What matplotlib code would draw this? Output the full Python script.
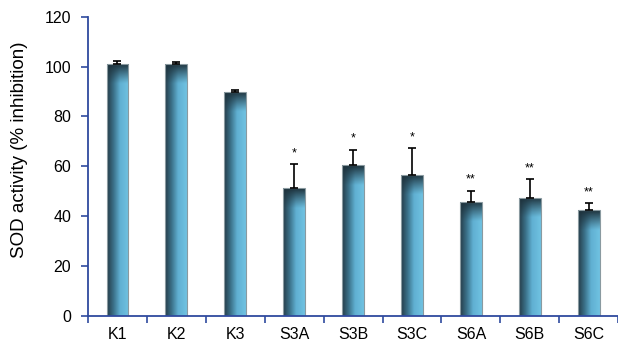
import numpy as np
import matplotlib
matplotlib.use("Agg")
import matplotlib.pyplot as plt
from matplotlib.colors import to_rgb

categories = ["K1", "K2", "K3", "S3A", "S3B", "S3C", "S6A", "S6B", "S6C"]
values = [101.2, 101.1, 89.9, 51.3, 60.4, 56.6, 45.9, 47.5, 42.4]
errors = [0.9, 0.7, 0.7, 9.6, 6.3, 10.7, 4.3, 7.4, 2.8]
stars = ["", "", "", "*", "*", "*", "**", "**", "**"]
yticks = [0, 20, 40, 60, 80, 100, 120]

plt.rcParams['font.family'] = ['Liberation Sans', 'DejaVu Sans']
axis_color = "#2f4a9e"

fig = plt.figure(figsize=(6.18, 3.44), dpi=100)
ax = fig.add_axes([0.1424, 0.0814, 0.858, 0.870])

x = np.arange(len(categories))
bars = ax.bar(x, values, width=0.37, facecolor="none", edgecolor="#8a9aa0",
              linewidth=0.8, zorder=3)

# gradient fill clipped to each bar
hstops = np.array([0.0, 0.3, 0.6, 1.0])
hcols = np.array([to_rgb("#253c48"), to_rgb("#3b7189"), to_rgb("#60b0d2"), to_rgb("#70c2e2")])
top_dark = np.array(to_rgb("#1d313b"))
fade = 8.0
for b in bars:
    x0, y0 = b.get_x(), b.get_y()
    w, h = b.get_width(), b.get_height()
    ny, nx = 200, 60
    u = np.linspace(0, 1, nx)
    row = np.stack([np.interp(u, hstops, hcols[:, k]) for k in range(3)], axis=-1)
    yy = np.linspace(h, 0, ny)  # top to bottom
    t = np.clip(1 - (h - yy) / fade, 0, 1) ** 1.1
    img = row[None, :, :] * (1 - t[:, None, None]) + top_dark[None, None, :] * t[:, None, None]
    im = ax.imshow(img, extent=(x0, x0 + w, y0, y0 + h), aspect='auto',
                   interpolation='bilinear', zorder=2)
    im.set_clip_path(b)

ax.errorbar(x, values, yerr=[np.zeros(len(errors)), errors], fmt='none',
            ecolor='black', elinewidth=1.2, capsize=3, capthick=1.2, zorder=4)

for xi, v, e, s in zip(x, values, errors, stars):
    if s:
        ax.text(xi, v + e + 2.0, s, ha='center', va='bottom', fontsize=9, color='black')

ax.set_xlim(-0.5, len(categories) - 0.5)
ax.set_ylim(0, 120)
ax.set_yticks(yticks)
ax.set_yticklabels([str(t) for t in yticks], fontsize=11.5)
ax.set_xticks(x)
ax.set_xticklabels(categories, fontsize=11.5)
ax.tick_params(axis='x', length=0, pad=8)
ax.set_xticks(np.arange(len(categories) + 1) - 0.5, minor=True)
ax.tick_params(axis='x', which='minor', length=5, width=1.2, color=axis_color, direction='out')
ax.tick_params(axis='y', length=5, width=1.2, color=axis_color, direction='out', pad=7)
ax.set_ylabel("SOD activity (% inhibition)", fontsize=13.5)
ax.yaxis.set_label_coords(-0.113, 0.555)

for sp in ['top', 'right']:
    ax.spines[sp].set_visible(False)
for sp in ['left', 'bottom']:
    ax.spines[sp].set_color(axis_color)
    ax.spines[sp].set_linewidth(1.3)
ax.spines['bottom'].set_zorder(5)

fig.savefig("out.png", dpi=100)
